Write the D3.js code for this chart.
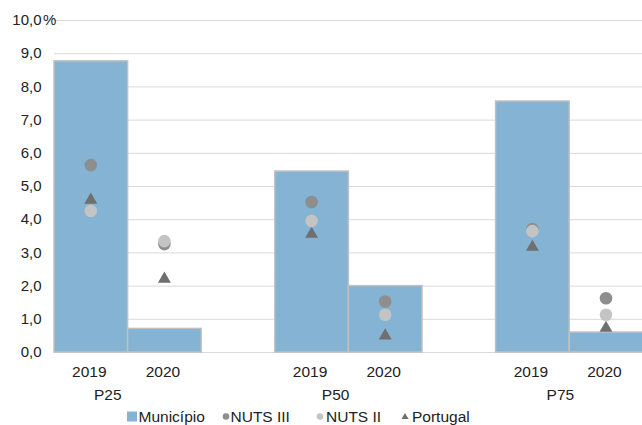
<!DOCTYPE html>
<html>
<head>
<meta charset="utf-8">
<script src="https://cdn.jsdelivr.net/npm/d3@7"></script>
<style>
  body { margin: 0; background: #fff; }
  svg { display: block; font-family: "Liberation Sans", Arial, sans-serif; }
</style>
</head>
<body>
<svg width="642" height="425"></svg>
<script>
// Data
const groups = ['P25', 'P50', 'P75'];
const years = ['2019', '2020'];
const municipio = [8.77, 0.71, 5.45, 2.0, 7.56, 0.6];
const nuts3 = [5.63, 3.25, 4.52, 1.52, 3.7, 1.62];
const nuts2 = [4.25, 3.34, 3.95, 1.12, 3.64, 1.12];
const portugal = [4.58, 2.2, 3.55, 0.49, 3.16, 0.72];
const yTicks = [0, 1, 2, 3, 4, 5, 6, 7, 8, 9, 10];

const barColor = '#84b3d3';
const nuts3Color = '#8e8e8e';
const nuts2Color = '#c4c4c4';
const portugalColor = '#6f6f6f';
const gridColor = '#d9d9d9';

const svg = d3.select('svg');

// one rows per bar: group + year
const rows = [];
groups.forEach((g, gi) => years.forEach((yr, yi) => {
    const i = gi * years.length + yi;
    rows.push({ key: g + '-' + yr, group: g, year: yr, m: municipio[i], n3: nuts3[i], n2: nuts2[i], pt: portugal[i] });
}));

// Each group gets 3 slots: 2019, 2020 and an empty gap
const slots = [];
groups.forEach(g => { years.forEach(yr => slots.push(g + '-' + yr)); slots.push(g + '-gap'); });

const x = d3.scaleBand().domain(slots).range([54, 54 + 73.6 * slots.length]).padding(0);
const y = d3.scaleLinear().domain([0, 10]).range([352, 20]);

// Gridlines
svg.append('g')
    .selectAll('line')
    .data(yTicks)
    .join('line')
    .attr('x1', 54)
    .attr('x2', 642)
    .attr('y1', d => y(d) + 0.5)
    .attr('y2', d => y(d) + 0.5)
    .attr('stroke', gridColor)
    .attr('stroke-width', 1);

// Y axis labels
svg.append('g')
    .selectAll('text')
    .data(yTicks)
    .join('text')
    .attr('x', 41.5)
    .attr('y', d => y(d))
    .attr('dy', '0.35em')
    .attr('text-anchor', 'end')
    .attr('font-size', 15)
    .attr('fill', '#222')
    .text(d => d3.format('.1f')(d).replace('.', ','));

svg.append('text')
    .attr('x', 43)
    .attr('y', y(10))
    .attr('dy', '0.35em')
    .attr('font-size', 15)
    .attr('fill', '#222')
    .text('%');

// Bars
svg.append('g')
    .selectAll('rect')
    .data(rows)
    .join('rect')
    .attr('x', d => x(d.key))
    .attr('y', d => y(d.m))
    .attr('width', x.bandwidth())
    .attr('height', d => y(0) - y(d.m))
    .attr('fill', barColor)
    .attr('stroke', '#c0c0c0')
    .attr('stroke-width', 1.5);

const cx = d => x(d.key) + x.bandwidth() / 2;

// Portugal triangles
svg.append('g')
    .selectAll('path')
    .data(rows)
    .join('path')
    .attr('d', d3.symbol().type(d3.symbolTriangle).size(72))
    .attr('transform', d => `translate(${cx(d)},${y(d.pt)})`)
    .attr('fill', portugalColor);

// NUTS III circles
svg.append('g')
    .selectAll('circle')
    .data(rows)
    .join('circle')
    .attr('cx', cx)
    .attr('cy', d => y(d.n3))
    .attr('r', 6.3)
    .attr('fill', nuts3Color);

// NUTS II circles
svg.append('g')
    .selectAll('circle')
    .data(rows)
    .join('circle')
    .attr('cx', cx)
    .attr('cy', d => y(d.n2))
    .attr('r', 6.3)
    .attr('fill', nuts2Color);

// Year labels
svg.append('g')
    .selectAll('text')
    .data(rows)
    .join('text')
    .attr('x', d => cx(d) - 1.5)
    .attr('y', 377)
    .attr('text-anchor', 'middle')
    .attr('font-size', 15.5)
    .attr('fill', '#222')
    .text(d => d.year);

// Group labels (offset as in the original layout)
const groupShift = { P25: 17, P50: 24, P75: 28 };
svg.append('g')
    .selectAll('text')
    .data(groups)
    .join('text')
    .attr('x', g => x(g + '-2019') + x.bandwidth() / 2 + groupShift[g])
    .attr('y', 400)
    .attr('text-anchor', 'middle')
    .attr('font-size', 15.5)
    .attr('fill', '#222')
    .text(g => g);

// Legend
const legend = svg.append('g').attr('font-size', 15.5).attr('fill', '#222');
legend.append('rect').attr('x', 127).attr('y', 411.5).attr('width', 10).attr('height', 10).attr('fill', barColor);
legend.append('text').attr('x', 138.5).attr('y', 422).text('Município');
legend.append('circle').attr('cx', 226).attr('cy', 416.5).attr('r', 3.3).attr('fill', nuts3Color);
legend.append('text').attr('x', 230.5).attr('y', 422).text('NUTS III');
legend.append('circle').attr('cx', 320).attr('cy', 416.5).attr('r', 3.3).attr('fill', nuts2Color);
legend.append('text').attr('x', 326).attr('y', 422).text('NUTS II');
legend.append('path')
    .attr('d', d3.symbol().type(d3.symbolTriangle).size(22))
    .attr('transform', 'translate(405,417)')
    .attr('fill', portugalColor);
legend.append('text').attr('x', 412).attr('y', 422).text('Portugal');
</script>
</body>
</html>
